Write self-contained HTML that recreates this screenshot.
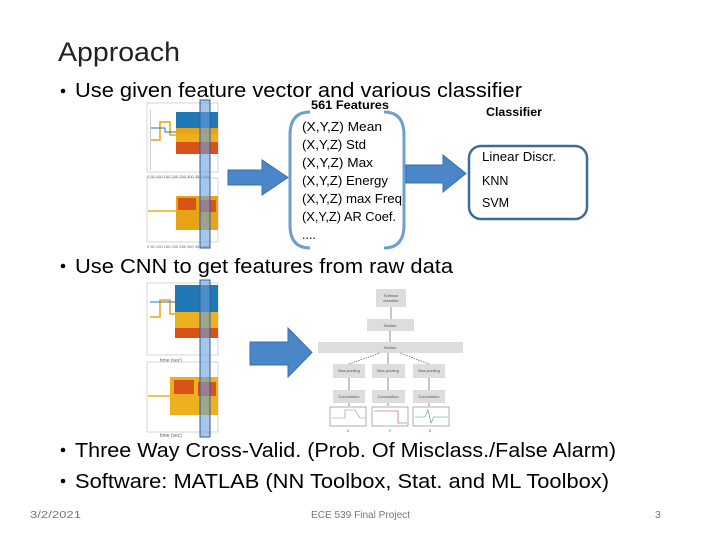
<!DOCTYPE html>
<html><head><meta charset="utf-8"><style>
html,body{margin:0;padding:0;background:#fff;}
svg{display:block}
text{font-family:"Liberation Sans",sans-serif;}
</style></head><body>
<svg width="720" height="540" viewBox="0 0 720 540" xmlns="http://www.w3.org/2000/svg">
<rect width="720" height="540" fill="#fff"/>
<text x="58" y="61" font-size="27" fill="#222" textLength="122" lengthAdjust="spacingAndGlyphs">Approach</text>
<circle cx="63" cy="91" r="2.3" fill="#000"/>
<text x="75" y="97" font-size="20" fill="#000" textLength="447" lengthAdjust="spacingAndGlyphs">Use given feature vector and various classifier</text>

<g>
<rect x="147" y="103" width="71" height="69" fill="#fff" stroke="#bbb" stroke-width="0.6"/>
<rect x="176" y="112" width="42" height="22" fill="#1f77b4"/>
<rect x="176" y="128" width="42" height="14" fill="#e8a317"/>
<rect x="176" y="140" width="42" height="14" fill="#d95319"/>
<rect x="176" y="134" width="42" height="8" fill="#edb120"/>
<path d="M150 140 L160 140 L160 122 L170 122 L170 135 L176 135" stroke="#e8a317" fill="none" stroke-width="1.5"/>
<path d="M150 128 L165 128 L165 132 L176 132" stroke="#1f77b4" fill="none" stroke-width="1"/>
<rect x="147" y="178" width="71" height="64" fill="#fff" stroke="#bbb" stroke-width="0.6"/>
<rect x="176" y="196" width="42" height="34" fill="#e8a317"/>
<rect x="178" y="198" width="18" height="12" fill="#d95319"/>
<rect x="200" y="200" width="16" height="12" fill="#d95319"/>
<line x1="148" y1="211" x2="176" y2="211" stroke="#edb120" stroke-width="1.5"/>
<rect x="150" y="110" width="1" height="60" fill="#ccc"/>
<text x="147" y="178" font-size="4" fill="#666">0  50 100 150 200 250 300 350 400</text>
<text x="147" y="248" font-size="4" fill="#666">0  50 100 150 200 250 300 350 400</text>
<rect x="200" y="100" width="10" height="148" fill="#6a9fd8" fill-opacity="0.6" stroke="#2f5f9f" stroke-width="1"/>
</g>

<path d="M228 170 L262 170 L262 160 L288 177.5 L262 195 L262 185 L228 185 Z" fill="#4a86c8" stroke="#3a70ad" stroke-width="1"/>

<path d="M310 112 Q290 112 290 135 L290 225 Q290 248 310 248" fill="none" stroke="#6f9fd0" stroke-width="3"/>
<path d="M384 112 Q404 112 404 135 L404 225 Q404 248 384 248" fill="none" stroke="#6f9fd0" stroke-width="3"/>
<text x="311" y="109" font-size="12" font-weight="bold" fill="#000" textLength="78" lengthAdjust="spacingAndGlyphs">561 Features</text>
<g font-size="12.5" fill="#000">
<text x="302" y="131" textLength="80" lengthAdjust="spacingAndGlyphs">(X,Y,Z) Mean</text>
<text x="302" y="149" textLength="64" lengthAdjust="spacingAndGlyphs">(X,Y,Z) Std</text>
<text x="302" y="167" textLength="71" lengthAdjust="spacingAndGlyphs">(X,Y,Z) Max</text>
<text x="302" y="185" textLength="86" lengthAdjust="spacingAndGlyphs">(X,Y,Z) Energy</text>
<text x="302" y="203" textLength="100" lengthAdjust="spacingAndGlyphs">(X,Y,Z) max Freq</text>
<text x="302" y="221" textLength="94" lengthAdjust="spacingAndGlyphs">(X,Y,Z) AR Coef.</text>
<text x="302" y="239">....</text>
</g>

<path d="M406 165 L443 165 L443 155 L466 173.5 L443 192 L443 183 L406 183 Z" fill="#4a86c8" stroke="#3a70ad" stroke-width="1"/>

<text x="486" y="116" font-size="12" font-weight="bold" fill="#000" textLength="56" lengthAdjust="spacingAndGlyphs">Classifier</text>
<rect x="469" y="146" width="118" height="73" rx="12" fill="#fff" stroke="#3f6a9c" stroke-width="2.5"/>
<g font-size="12.5" fill="#000">
<text x="482" y="161" textLength="74" lengthAdjust="spacingAndGlyphs">Linear Discr.</text>
<text x="482" y="185">KNN</text>
<text x="482" y="207">SVM</text>
</g>

<circle cx="63" cy="266" r="2.3" fill="#000"/>
<text x="75" y="273" font-size="20" fill="#000" textLength="378" lengthAdjust="spacingAndGlyphs">Use CNN to get features from raw data</text>

<g>
<rect x="147" y="283" width="71" height="72" fill="#fff" stroke="#bbb" stroke-width="0.6"/>
<rect x="175" y="285" width="43" height="30" fill="#1f77b4"/>
<rect x="175" y="312" width="43" height="18" fill="#edb120"/>
<rect x="175" y="328" width="43" height="10" fill="#d95319"/>
<path d="M150 317 L160 317 L160 300 L170 300 L170 314 L175 314" stroke="#e8a317" fill="none" stroke-width="1.5"/>
<path d="M150 302 L175 302" stroke="#1f77b4" fill="none" stroke-width="1"/>
<text x="160" y="362" font-size="5" fill="#666">time (sec)</text>
<rect x="147" y="362" width="71" height="70" fill="#fff" stroke="#bbb" stroke-width="0.6"/>
<rect x="170" y="377" width="48" height="38" fill="#edb120"/>
<rect x="174" y="380" width="20" height="14" fill="#d95319"/>
<rect x="198" y="382" width="18" height="14" fill="#d95319"/>
<line x1="148" y1="396" x2="170" y2="396" stroke="#edb120" stroke-width="1.5"/>
<text x="160" y="437" font-size="5" fill="#666">time (sec)</text>
<rect x="200" y="280" width="10" height="157" fill="#6a9fd8" fill-opacity="0.6" stroke="#2f5f9f" stroke-width="1"/>
</g>

<path d="M250 342 L288 342 L288 328 L312 352.5 L288 377 L288 365 L250 365 Z" fill="#4a86c8" stroke="#3a70ad" stroke-width="1"/>

<g font-size="4" fill="#555" text-anchor="middle">
<rect x="376" y="289" width="30" height="18" fill="#ddd"/><text x="391" y="297">Softmax</text><text x="391" y="302">classifier</text>
<rect x="367" y="319" width="47" height="12" fill="#ddd"/><text x="390" y="327">Hidden</text>
<rect x="318" y="342" width="145" height="11" fill="#ddd"/><text x="390" y="349">Hidden</text>
<rect x="333" y="364" width="32" height="14" fill="#ddd"/><text x="349" y="372">Max-pooling</text>
<rect x="372" y="364" width="33" height="14" fill="#ddd"/><text x="388" y="372">Max-pooling</text>
<rect x="413" y="364" width="32" height="14" fill="#ddd"/><text x="429" y="372">Max-pooling</text>
<rect x="333" y="390" width="32" height="13" fill="#ddd"/><text x="349" y="398">Convolution</text>
<rect x="372" y="390" width="33" height="13" fill="#ddd"/><text x="388" y="398">Convolution</text>
<rect x="413" y="390" width="32" height="13" fill="#ddd"/><text x="429" y="398">Convolution</text>
<g stroke="#444" stroke-width="0.6" fill="none">
<line x1="391" y1="319" x2="391" y2="307"/><line x1="390" y1="342" x2="390" y2="331"/>
<line x1="349" y1="364" x2="380" y2="353" stroke-dasharray="1.5,1"/><line x1="388" y1="364" x2="388" y2="353"/><line x1="429" y1="364" x2="400" y2="353" stroke-dasharray="1.5,1"/>
<line x1="349" y1="390" x2="349" y2="378"/><line x1="388" y1="390" x2="388" y2="378"/><line x1="429" y1="390" x2="429" y2="378"/>
<line x1="349" y1="406" x2="349" y2="403"/><line x1="388" y1="406" x2="388" y2="403"/><line x1="429" y1="406" x2="429" y2="403"/>
</g>
<rect x="330" y="407" width="36" height="19" fill="#fff" stroke="#777" stroke-width="0.6"/>
<rect x="372" y="407" width="36" height="19" fill="#fff" stroke="#777" stroke-width="0.6"/>
<rect x="413" y="407" width="36" height="19" fill="#fff" stroke="#777" stroke-width="0.6"/>
<path d="M332 418 L345 418 L345 410 L355 410 L360 418 L365 418" stroke="#6a8fc0" fill="none" stroke-width="0.6"/>
<path d="M374 411 L398 411 L398 423 L407 423" stroke="#c04040" fill="none" stroke-width="0.6"/>
<path d="M415 417 L425 417 L428 410 L431 423 L434 417 L448 417" stroke="#40a060" fill="none" stroke-width="0.6"/>
<text x="348" y="432">X</text><text x="390" y="432">Y</text><text x="430" y="432">Z</text>
</g>

<circle cx="63" cy="450" r="2.3" fill="#000"/>
<text x="75" y="457" font-size="20" fill="#000" textLength="541" lengthAdjust="spacingAndGlyphs">Three Way Cross-Valid. (Prob. Of Misclass./False Alarm)</text>
<circle cx="63" cy="481" r="2.3" fill="#000"/>
<text x="75" y="488" font-size="20" fill="#000" textLength="534" lengthAdjust="spacingAndGlyphs">Software: MATLAB (NN Toolbox, Stat. and ML Toolbox)</text>

<g font-size="10.5" fill="#777">
<text x="30" y="518" textLength="51" lengthAdjust="spacingAndGlyphs">3/2/2021</text>
<text x="311" y="518" textLength="99" lengthAdjust="spacingAndGlyphs">ECE 539 Final Project</text>
<text x="655" y="518">3</text>
</g>
</svg>
</body></html>
